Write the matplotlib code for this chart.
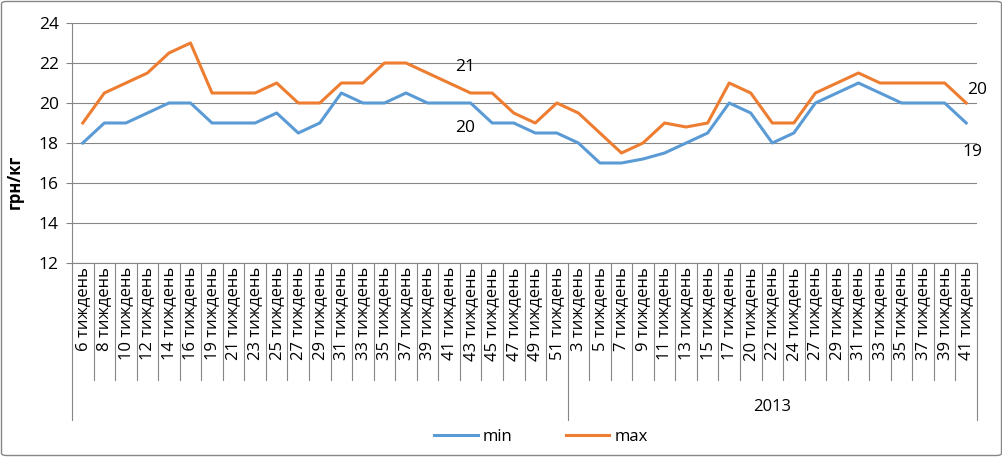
import matplotlib.pyplot as plt
from matplotlib.patches import FancyBboxPatch
import matplotlib.transforms as mtransforms

plt.rcParams['font.family'] = ['Open Sans', 'DejaVu Sans']

weeks_2012 = [6, 8, 10, 12, 14, 16, 19, 21, 23, 25, 27, 29, 31, 33, 35, 37, 39, 41, 43, 45, 47, 49, 51]
weeks_2013 = [3, 5, 7, 9, 11, 13, 15, 17, 20, 22, 24, 27, 29, 31, 33, 35, 37, 39, 41]
labels = [f'{w} тиждень' for w in weeks_2012 + weeks_2013]

min_vals = [18, 19, 19, 19.5, 20, 20, 19, 19, 19, 19.5, 18.5, 19, 20.5, 20, 20, 20.5, 20, 20, 20, 19, 19, 18.5, 18.5,
            18, 17, 17, 17.2, 17.5, 18, 18.5, 20, 19.5, 18, 18.5, 20, 20.5, 21, 20.5, 20, 20, 20, 19]
max_vals = [19, 20.5, 21, 21.5, 22.5, 23, 20.5, 20.5, 20.5, 21, 20, 20, 21, 21, 22, 22, 21.5, 21, 20.5, 20.5, 19.5, 19, 20,
            19.5, 18.5, 17.5, 18, 19, 18.8, 19, 21, 20.5, 19, 19, 20.5, 21, 21.5, 21, 21, 21, 21, 20]

blue = '#5B9BD5'
orange = '#ED7D31'
grid_c = '#868686'

W, H = 1003, 457
fig = plt.figure(figsize=(W / 100, H / 100), dpi=100)
ax = fig.add_axes([72 / W, 1 - 263 / H, (977 - 72) / W, 240 / H])

x = list(range(len(labels)))
ax.plot(x, min_vals, color=blue, lw=2.2, label='min', solid_joinstyle='round')
ax.plot(x, max_vals, color=orange, lw=2.2, label='max', solid_joinstyle='round')

ax.set_xlim(-0.5, len(labels) - 0.5)
ax.set_ylim(12, 24)
ax.set_yticks(range(12, 25, 2))
ax.yaxis.grid(True, color=grid_c, lw=0.8)
ax.set_axisbelow(True)
for s in ['top', 'right']:
    ax.spines[s].set_visible(False)
ax.spines['left'].set_color(grid_c)
ax.spines['bottom'].set_color(grid_c)
ax.tick_params(axis='y', length=4.5, color=grid_c, labelsize=12.5, pad=5)
ax.set_xticks(x)
ax.set_xticklabels(labels, rotation=90, fontsize=12)
ax.tick_params(axis='x', length=0, pad=3)
ax.set_ylabel('грн/кг', fontsize=12, fontweight='bold')
ax.yaxis.set_label_coords(-48 / 905, 0.34)

# data labels
def dlabel(i, vals, dx, dy):
    ax.annotate(f'{vals[i]:g}', (i, vals[i]), xytext=(dx, dy), textcoords='offset points',
                ha='center', va='center', fontsize=12.5)

dlabel(17, max_vals, 11.5, 11.5)
dlabel(17, min_vals, 11.5, -18)
dlabel(41, max_vals, 8, 9.5)
dlabel(41, min_vals, 4.3, -21)

# category separators and group lines
trans = mtransforms.blended_transform_factory(ax.transData, ax.transAxes)
n12 = len(weeks_2012)
for i in range(1, len(labels)):
    bottom = -157 / 240 if i == n12 else -117 / 240
    ax.plot([i - 0.5, i - 0.5], [0, bottom], transform=trans, color=grid_c, lw=0.8, clip_on=False)
for xe in [-0.5, len(labels) - 0.5]:
    ax.plot([xe, xe], [0, -157 / 240], transform=trans, color=grid_c, lw=0.8, clip_on=False)
ax.text((n12 + len(labels) - 1) / 2, -144 / 240, '2013', transform=trans,
        ha='center', va='center', fontsize=12)

fig.legend(loc='center', bbox_to_anchor=(541 / W, 1 - 437 / H), ncol=2, frameon=False,
           fontsize=12, handlelength=2.6, columnspacing=3.2, handletextpad=0.3)

fig.patches.append(FancyBboxPatch((1.5 / W, 1.5 / H), 1 - 3 / W, 1 - 3 / H,
                                  boxstyle='round,pad=0,rounding_size=0.005',
                                  transform=fig.transFigure, fill=False,
                                  edgecolor=grid_c, lw=1))

fig.savefig('out.png', dpi=100)
